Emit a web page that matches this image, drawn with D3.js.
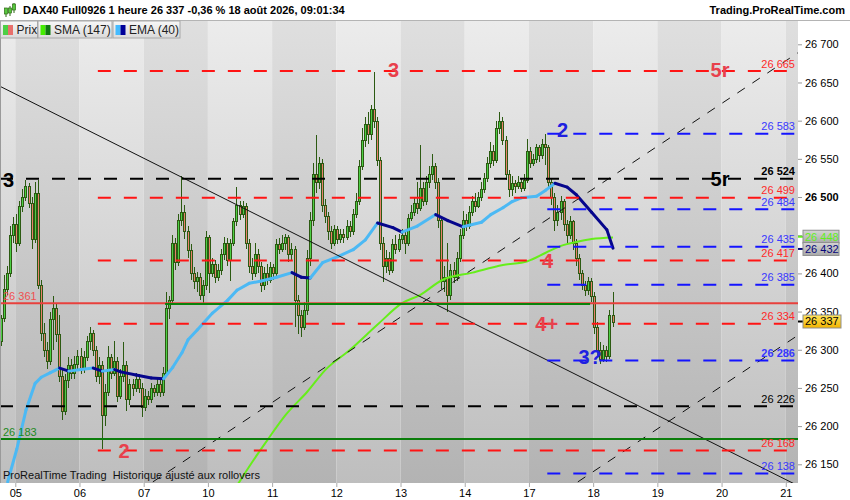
<!DOCTYPE html>
<html>
<head>
<meta charset="utf-8">
<script src="https://cdn.jsdelivr.net/npm/d3@7"></script>
<style>
  body { margin: 0; background: #fff; font-family: "Liberation Sans", Arial, sans-serif; }
  svg { display: block; }
</style>
</head>
<body>
<svg id="chart"></svg>
<script>
// hourly bars, one slot per hour (21 per trading day), slot 0 = 04 Aug 17:00
const dayLabels = ["05", "06", "07", "10", "11", "12", "13", "14", "17", "18", "19", "20", "21"];
const dayStarts = [5, 26, 47, 68, 89, 110, 131, 152, 173, 194, 215, 236, 257];
const totalSlots = 261;

const opens = [26311,26341,26380,26400,26450,26465,26440,26488,26500,26515,26492,26445,26505,26385,26322,26300,26285,26340,26355,26320,
  26265,26220,26260,26280,26270,26282,26292,26275,26290,26312,26322,26300,26265,26280,26215,26245,26290,26270,26285,26240,
  26265,26280,26235,26255,26250,26262,26250,26225,26240,26235,26250,26245,26255,26245,26270,26355,26365,26440,26415,26470,
  26480,26455,26430,26400,26390,26395,26372,26385,26448,26400,26412,26395,26405,26425,26440,26418,26440,26468,26490,26478,
  26488,26440,26410,26400,26425,26410,26385,26400,26392,26408,26400,26438,26432,26440,26448,26425,26432,26365,26345,26330,
  26352,26420,26470,26530,26520,26545,26490,26475,26455,26440,26458,26445,26452,26448,26462,26455,26478,26495,26540,26575,
  26595,26582,26615,26600,26548,26440,26410,26420,26405,26438,26432,26445,26450,26440,26472,26480,26492,26485,26512,26495,
  26520,26530,26540,26520,26470,26390,26395,26372,26405,26395,26420,26450,26470,26462,26480,26495,26488,26500,26510,26525,
  26545,26560,26548,26590,26600,26575,26530,26510,26518,26515,26520,26512,26522,26560,26545,26550,26565,26555,26570,26565,
  26520,26500,26470,26480,26495,26465,26450,26468,26440,26420,26400,26385,26378,26390,26370,26330,26300,26288,26300,26292,
  26345];
const highs = [26346,26398,26410,26462,26474,26478,26495,26510,26522,26518,26500,26520,26522,26392,26335,26310,26350,26370,26360,26345,
  26275,26268,26290,26288,26292,26300,26302,26298,26318,26330,26326,26305,26290,26285,26255,26305,26295,26312,26290,26275,
  26310,26285,26262,26262,26270,26268,26256,26248,26246,26256,26254,26262,26260,26278,26375,26370,26450,26446,26478,26527,
  26490,26462,26438,26408,26402,26400,26392,26455,26450,26420,26418,26412,26432,26448,26446,26445,26472,26513,26495,26495,
  26492,26445,26420,26440,26432,26415,26408,26412,26415,26412,26445,26446,26450,26452,26450,26440,26436,26372,26352,26362,
  26430,26480,26545,26581,26552,26550,26498,26480,26462,26464,26462,26458,26458,26470,26468,26484,26505,26548,26590,26605,
  26612,26620,26664,26605,26552,26448,26430,26428,26445,26450,26452,26458,26456,26478,26490,26500,26520,26568,26520,26528,
  26540,26557,26545,26525,26475,26410,26440,26412,26415,26428,26458,26482,26478,26488,26502,26505,26506,26520,26532,26552,
  26572,26568,26600,26612,26605,26580,26535,26528,26522,26528,26525,26530,26576,26565,26556,26570,26568,26576,26583,26568,
  26525,26505,26490,26502,26498,26470,26475,26470,26445,26425,26405,26390,26395,26394,26375,26336,26310,26306,26305,26352,
  26376];
const lows = [26305,26336,26372,26395,26440,26428,26436,26480,26495,26485,26432,26440,26380,26312,26290,26275,26280,26300,26310,26258,
  26208,26215,26250,26262,26262,26272,26268,26270,26285,26300,26292,26258,26255,26170,26200,26240,26262,26265,26232,26235,
  26258,26220,26228,26240,26245,26244,26212,26220,26228,26230,26238,26240,26238,26240,26265,26340,26360,26405,26410,26462,
  26445,26420,26392,26380,26375,26365,26360,26378,26374,26395,26388,26390,26398,26418,26410,26390,26436,26462,26470,26472,
  26432,26400,26392,26395,26400,26376,26378,26385,26388,26392,26396,26425,26428,26430,26415,26418,26330,26320,26317,26326,
  26345,26410,26462,26505,26510,26480,26466,26444,26432,26436,26438,26440,26440,26444,26448,26450,26472,26490,26535,26565,
  26570,26575,26590,26540,26430,26389,26400,26398,26400,26425,26428,26438,26425,26436,26468,26475,26478,26482,26488,26490,
  26512,26522,26510,26460,26380,26375,26350,26365,26388,26390,26415,26445,26455,26458,26475,26480,26485,26495,26505,26520,
  26538,26540,26545,26582,26568,26522,26500,26502,26505,26510,26506,26508,26518,26538,26540,26545,26546,26550,26542,26512,
  26490,26455,26462,26470,26456,26440,26445,26430,26410,26392,26378,26370,26372,26362,26320,26292,26282,26284,26284,26288,
  26330];
const closes = [26341,26380,26400,26450,26465,26440,26488,26500,26515,26492,26445,26505,26385,26322,26300,26285,26340,26355,26320,26265,
  26220,26260,26280,26270,26282,26292,26275,26290,26312,26322,26300,26265,26280,26215,26245,26290,26270,26285,26240,26265,
  26280,26235,26255,26250,26262,26250,26225,26240,26235,26250,26245,26255,26245,26270,26355,26365,26440,26415,26470,26480,
  26455,26430,26400,26390,26395,26372,26385,26448,26400,26412,26395,26405,26425,26440,26418,26440,26468,26490,26478,26488,
  26440,26410,26400,26425,26410,26385,26400,26392,26408,26400,26438,26432,26440,26448,26425,26432,26365,26345,26330,26352,
  26420,26470,26530,26520,26545,26490,26475,26455,26440,26458,26445,26452,26448,26462,26455,26478,26495,26540,26575,26595,
  26582,26615,26600,26548,26440,26410,26420,26405,26438,26432,26445,26450,26440,26472,26480,26492,26485,26512,26495,26520,
  26530,26540,26520,26470,26390,26395,26372,26405,26395,26420,26450,26470,26462,26480,26495,26488,26500,26510,26525,26545,
  26560,26548,26590,26600,26575,26530,26510,26518,26515,26520,26512,26522,26560,26545,26550,26565,26555,26570,26565,26520,
  26500,26470,26480,26495,26465,26450,26468,26440,26420,26400,26385,26378,26390,26370,26330,26300,26288,26300,26292,26345,
  26337];

// SMA (147) and EMA (40) at these slots
const smaSlots = [77, 82, 87, 93, 100, 106, 114, 123, 131, 137, 144, 154, 164, 172, 178, 183, 188, 193, 200];
const smaValues = [26122, 26153, 26182, 26215, 26245, 26274, 26300, 26333, 26361, 26372, 26391, 26401, 26411, 26416, 26427, 26436, 26441, 26445, 26447];
const emaSlots = [2, 5, 8, 11, 13, 16, 19, 22, 26, 30, 33, 37, 39, 44, 49, 53, 56, 59, 61, 64, 69, 74, 77, 81, 85, 90, 95, 98, 101,
  105, 110, 115, 119, 123, 128, 131, 136, 142, 146, 151, 157, 160, 164, 167, 170, 175, 178, 181, 185, 188, 193, 198, 200];
const emaValues = [26127, 26170, 26221, 26256, 26264, 26270, 26276, 26272, 26274, 26276, 26272, 26274, 26271, 26267, 26263, 26262,
  26277, 26296, 26313, 26326, 26348, 26365, 26378, 26387, 26390, 26395, 26401, 26395, 26394, 26414, 26422, 26431, 26444, 26466,
  26460, 26454, 26462, 26477, 26469, 26461, 26467, 26477, 26486, 26494, 26499, 26501, 26509, 26518, 26513, 26503, 26480, 26457, 26433];

// dashed support / resistance levels
const levelPrices = [26665, 26583, 26524, 26499, 26484, 26435, 26417, 26385, 26334, 26286, 26226, 26168, 26138];
const levelKinds = ["red", "blue", "black", "red", "blue", "blue", "red", "blue", "red", "blue", "black", "red", "blue"];
const levelFrom = [32, 179, 0, 32, 179, 179, 32, 179, 32, 179, 0, 32, 179];

// wave tags
const tagTexts = ["3", "5r", "3", "5r", "2", "2", "4", "4+", "3?"];
const tagSlots = [128.7, 235.5, 2.8, 235.5, 40.6, 184, 179.1, 178.8, 193];
const tagPrices = [26667, 26667, 26522, 26524, 26168, 26588, 26417, 26334, 26291];
const tagKinds = ["red", "red", "black", "black", "red", "blue", "red", "red", "blue"];

// trend lines, [slot, price] anchors
const downTrend = [[0, 26645], [261, 26122]];
const channelTop = [[50, 26127], [261, 26689]];
const channelLow = [[189, 26127], [261, 26319]];

const axisTicks = d3.range(26150, 26701, 50);

const svg = d3.select("#chart").attr("width", 850).attr("height", 500);
const plot = { left: 0, right: 798, top: 20, bottom: 483 };

const x = d3.scaleLinear().domain([0, totalSlots]).range([plot.left, plot.right]);
const y = d3.scaleLinear().domain([26150, 26700]).range([464.3, 44.3]);
const fmt = v => d3.format(",")(v).replace(",", " ");

const defs = svg.append("defs");
const grad = (id, stops) => {
  const gr = defs.append("linearGradient").attr("id", id).attr("x1", 0).attr("y1", 0).attr("x2", 0).attr("y2", 1);
  stops.forEach((s, i) => gr.append("stop").attr("offset", i / (stops.length - 1)).attr("stop-color", s));
};
grad("bgLight", ["#ececec", "#bebebe"]);
grad("bgDark", ["#dfdfdf", "#b3b3b3"]);
grad("btn", ["#f7f7f7", "#dadada"]);
grad("boxGrey", ["#d4d4d4", "#a9a9a9"]);
grad("boxGold", ["#ffe45a", "#f2b400"]);
defs.append("clipPath").attr("id", "clip").append("rect")
  .attr("x", plot.left).attr("y", plot.top).attr("width", plot.right - plot.left).attr("height", plot.bottom - plot.top);

// day bands
const bandEdges = [0].concat(dayStarts, [totalSlots]);
svg.append("g").selectAll("rect").data(d3.range(bandEdges.length - 1)).enter().append("rect")
  .attr("x", i => x(bandEdges[i])).attr("y", plot.top)
  .attr("width", i => x(bandEdges[i + 1]) - x(bandEdges[i])).attr("height", plot.bottom - plot.top)
  .attr("fill", i => i % 2 === 0 ? "url(#bgLight)" : "url(#bgDark)");

const g = svg.append("g").attr("clip-path", "url(#clip)");

// candles, snapped to whole pixels: 3px wide with a 1px fill inside a dark outline
const candles = closes.map((c, i) => ({ i, o: opens[i], h: highs[i], l: lows[i], c }));
const left = d => Math.round(x(d.i + 0.5) - 1.5);
const cg = g.append("g").attr("shape-rendering", "crispEdges");
cg.selectAll("rect.wick").data(candles).enter().append("rect").attr("class", "wick")
  .attr("x", d => left(d) + 1).attr("width", 1)
  .attr("y", d => Math.round(y(d.h))).attr("height", d => Math.max(1, Math.round(y(d.l)) - Math.round(y(d.h))))
  .attr("fill", "#2c5a12");
cg.selectAll("rect.body").data(candles).enter().append("rect").attr("class", "body")
  .attr("x", d => left(d) + 0.5).attr("width", 2)
  .attr("y", d => Math.round(y(Math.max(d.o, d.c))) + 0.5)
  .attr("height", d => Math.max(1, Math.round(y(Math.min(d.o, d.c))) - Math.round(y(Math.max(d.o, d.c)))))
  .attr("fill", d => d.c >= d.o ? "#4ccf45" : "#e8806c")
  .attr("stroke", "#2c5a12").attr("stroke-width", 1);

// SMA
const lineGen = d3.line().x(d => x(d[0] + 0.5)).y(d => y(d[1])).curve(d3.curveMonotoneX);
g.append("path").datum(smaSlots.map((s, i) => [s, smaValues[i]]))
  .attr("d", lineGen).attr("fill", "none").attr("stroke", "#66ee1a").attr("stroke-width", 2);

// EMA, coloured by direction
const emaPts = emaSlots.map((s, i) => [s, emaValues[i]]);
g.append("g").selectAll("path").data(d3.range(emaPts.length - 1)).enter().append("path")
  .attr("d", i => d3.line().x(d => x(d[0] + 0.5)).y(d => y(d[1]))([emaPts[i], emaPts[i + 1]]))
  .attr("fill", "none").attr("stroke-width", 3).attr("stroke-linecap", "round")
  .attr("stroke", i => emaPts[i + 1][1] >= emaPts[i][1] ? "#4cb9f4" : "#06068c");

// trend lines
const trend = (pts, dash) => g.append("line")
  .attr("x1", x(pts[0][0])).attr("y1", y(pts[0][1]))
  .attr("x2", x(pts[1][0])).attr("y2", y(pts[1][1]))
  .attr("stroke", "#111").attr("stroke-width", 1).attr("stroke-dasharray", dash);
trend(downTrend, null);
trend(channelTop, "9,9");
trend(channelLow, "9,9");

// solid horizontal lines
const hline = (p, from, to, color) => g.append("line")
  .attr("x1", x(from)).attr("x2", x(to)).attr("y1", y(p)).attr("y2", y(p))
  .attr("stroke", color).attr("stroke-width", 2);
hline(26361, 0, totalSlots, "#e8403c");
hline(26360, 54, 193, "#0b820b");
hline(26183, 0, totalSlots, "#0b7d0b");

const lineColor = { red: "#ff1414", blue: "#1414ff", black: "#000" };
const textColor = { red: "#ff2a2a", blue: "#3838ff", black: "#000" };
const tagColor = { red: "#e8404c", blue: "#2020e0", black: "#000" };

// dashed levels
g.append("g").selectAll("line").data(levelPrices).enter().append("line")
  .attr("x1", (d, i) => x(levelFrom[i])).attr("x2", x(totalSlots))
  .attr("y1", d => y(d)).attr("y2", d => y(d))
  .attr("stroke", (d, i) => lineColor[levelKinds[i]]).attr("stroke-width", 2)
  .attr("stroke-dasharray", "13,13");
g.append("g").selectAll("text").data(levelPrices).enter().append("text")
  .attr("x", 795).attr("y", d => y(d) - 3.5).attr("text-anchor", "end")
  .attr("font-size", 11)
  .attr("font-weight", d => (d === 26524 || d === 26286) ? "bold" : "normal")
  .attr("fill", (d, i) => textColor[levelKinds[i]]).text(fmt);

// left value labels
g.append("text").attr("x", 3).attr("y", y(26361) - 3).attr("font-size", 11).attr("fill", "#f05050").text(fmt(26361));
g.append("text").attr("x", 3).attr("y", y(26183) - 3).attr("font-size", 11).attr("fill", "#1e8a1e").text(fmt(26183));

// wave tags
g.append("g").selectAll("text").data(tagTexts).enter().append("text")
  .attr("x", (d, i) => x(tagSlots[i])).attr("y", (d, i) => y(tagPrices[i]))
  .attr("text-anchor", "middle").attr("dy", "0.36em")
  .attr("font-size", 20).attr("font-weight", "bold")
  .attr("fill", (d, i) => tagColor[tagKinds[i]]).text(d => d);

g.append("text").attr("x", 3).attr("y", 479).attr("font-size", 11).attr("fill", "#111")
  .style("white-space", "pre").text("ProRealTime Trading  Historique ajusté aux rollovers");

// plot frame
svg.append("line").attr("x1", 0.5).attr("x2", 0.5).attr("y1", plot.top).attr("y2", plot.bottom)
  .attr("stroke", "#9a9a9a");
svg.append("line").attr("x1", 0).attr("x2", 850).attr("y1", plot.top + 0.5).attr("y2", plot.top + 0.5)
  .attr("stroke", "#b4b4b4");

// right axis
const yAxis = svg.append("g").attr("transform", `translate(${plot.right},0)`)
  .call(d3.axisRight(y).tickValues(axisTicks).tickSize(4).tickPadding(3).tickFormat(fmt));
yAxis.select(".domain").remove();
yAxis.selectAll(".tick line").attr("stroke", "#999");
yAxis.selectAll(".tick text").attr("font-size", 11).attr("font-family", "Liberation Sans, Arial, sans-serif")
  .attr("fill", "#000").attr("font-weight", d => d === 26500 ? "bold" : "normal");

// axis value boxes
const valueBox = (p, fill, color, w) => {
  svg.append("line").attr("x1", plot.right).attr("x2", plot.right + 5).attr("y1", y(p)).attr("y2", y(p))
    .attr("stroke", color).attr("stroke-width", 2);
  svg.append("rect").attr("x", plot.right + 5).attr("y", y(p) - 6.5).attr("width", w).attr("height", 13)
    .attr("fill", fill).attr("stroke", "#8f8f8f").attr("stroke-width", 1);
  svg.append("text").attr("x", plot.right + 7).attr("y", y(p)).attr("dy", "0.36em").attr("font-size", 11)
    .attr("fill", color).text(fmt(p));
};
valueBox(26448, "url(#boxGrey)", "#62f01a", 36);
valueBox(26432, "url(#boxGrey)", "#06067a", 36);
valueBox(26337, "url(#boxGold)", "#000", 38);

// bottom axis
const xAxis = svg.append("g").attr("transform", `translate(0,${plot.bottom})`)
  .call(d3.axisBottom(x).tickValues(dayStarts).tickSize(4).tickPadding(2).tickFormat((d, i) => dayLabels[i]));
xAxis.select(".domain").remove();
xAxis.selectAll(".tick line").attr("stroke", "#aaa");
xAxis.selectAll(".tick text").attr("font-size", 11).attr("font-family", "Liberation Sans, Arial, sans-serif").attr("fill", "#000");

// header
svg.append("rect").attr("x", 0).attr("y", 0).attr("width", 850).attr("height", plot.top).attr("fill", "#fff");
const icon = svg.append("g");
[[6, 10, 14, 8, 12], [10, 6, 13, 8, 11], [14, 3, 10, 4, 8]].forEach(c => {
  icon.append("line").attr("x1", c[0]).attr("x2", c[0]).attr("y1", c[1]).attr("y2", c[2] + 3).attr("stroke", "#2c6a12");
  icon.append("rect").attr("x", c[0] - 1.5).attr("y", c[3]).attr("width", 3).attr("height", c[4] - c[3] + 2)
    .attr("fill", "#56c83e").attr("stroke", "#2c6a12").attr("stroke-width", 0.7);
});
svg.append("text").attr("x", 23).attr("y", 14).attr("font-size", 11).attr("font-weight", "bold").attr("fill", "#000")
  .text("DAX40 Full0926 1 heure 26 337 -0,36 % 18 août 2026, 09:01:34");
svg.append("text").attr("x", 845).attr("y", 14).attr("text-anchor", "end").attr("font-size", 11)
  .attr("font-weight", "bold").attr("fill", "#000").text("Trading.ProRealTime.com");

// legend buttons
const legendNames = ["Prix", "SMA (147)", "EMA (40)"];
const legendX = [0.5, 38, 113];
const legendW = [37, 74, 67];
const legendSwatch = [["#4ccf45", "#e8706c"], ["#44ee00", "#107a10"], ["#44bbff", "#000099"]];
const lg = svg.append("g").selectAll("g").data(legendNames).enter().append("g")
  .attr("transform", (d, i) => `translate(${legendX[i]},21)`);
lg.append("rect").attr("width", (d, i) => legendW[i]).attr("height", 17)
  .attr("fill", "url(#btn)").attr("stroke", "#a8a8a8");
lg.append("rect").attr("x", 2.5).attr("y", 4).attr("width", 5).attr("height", 10).attr("fill", (d, i) => legendSwatch[i][0]);
lg.append("rect").attr("x", 7.5).attr("y", 4).attr("width", 5).attr("height", 10).attr("fill", (d, i) => legendSwatch[i][1]);
lg.append("text").attr("x", 16).attr("y", 13).attr("font-size", 12).attr("fill", "#222").text(d => d);
</script>
</body>
</html>
